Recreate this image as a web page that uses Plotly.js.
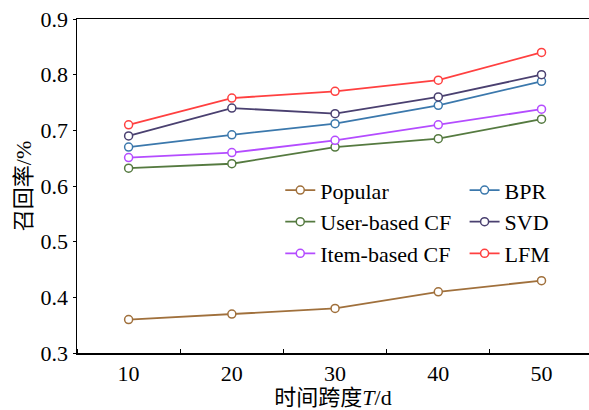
<!DOCTYPE html>
<html>
<head>
<meta charset="utf-8">
<script src="https://cdn.plot.ly/plotly-3.0.1.min.js"></script>
<style>html,body{margin:0;padding:0;background:#fff;}#chart{width:589px;height:410px;}</style>
</head>
<body>
<div id="chart"></div>
<script>
const timeSpan = [10, 20, 30, 40, 50];
const popular = [0.36, 0.37, 0.38, 0.41, 0.43];
const userCF = [0.632, 0.64, 0.67, 0.685, 0.72];
const itemCF = [0.651, 0.66, 0.682, 0.71, 0.738];
const bpr = [0.67, 0.692, 0.712, 0.745, 0.788];
const svd = [0.69, 0.74, 0.73, 0.76, 0.80];
const lfm = [0.71, 0.758, 0.77, 0.79, 0.84];
const seriesNames = ['Popular', 'User-based CF', 'Item-based CF', 'BPR', 'SVD', 'LFM'];

const FONT = 'Liberation Serif, Times New Roman, Noto Sans CJK SC, serif';
function tr(name, y, color, legend) {
  return {
    x: timeSpan, y: y, name: name, type: 'scatter', mode: 'lines+markers',
    line: {color: color, width: 1.8},
    marker: {symbol: 'circle', size: 8, color: '#ffffff', line: {color: color, width: 1.5}},
    legend: legend
  };
}
const data = [
  tr(seriesNames[0], popular, '#a0703c', 'legend'),
  tr(seriesNames[1], userCF, '#557a40', 'legend'),
  tr(seriesNames[2], itemCF, '#b44cff', 'legend'),
  tr(seriesNames[3], bpr, '#3b78ac', 'legend2'),
  tr(seriesNames[4], svd, '#4a4070', 'legend2'),
  tr(seriesNames[5], lfm, '#ff4040', 'legend2')
];
const legendBase = {
  font: {family: FONT, size: 22, color: '#000'},
  bgcolor: 'rgba(0,0,0,0)', borderwidth: 0,
  xanchor: 'left', yanchor: 'top', yref: 'paper', xref: 'paper',
  tracegroupgap: 0, itemwidth: 30
};
const layout = {
  width: 589, height: 410,
  margin: {l: 77, r: 0, t: 19, b: 57},
  paper_bgcolor: '#fff', plot_bgcolor: '#fff',
  font: {family: FONT, size: 22, color: '#000'},
  showlegend: true,
  legend: Object.assign({}, legendBase, {x: 0.397, y: 0.55}),
  legend2: Object.assign({}, legendBase, {x: 0.757, y: 0.55}),
  xaxis: {
    range: [5, 54.6],
    tickvals: timeSpan,
    ticks: '',
    showgrid: false, zeroline: false,
    showline: true, linecolor: '#000', linewidth: 1.5,
    mirror: true,
    minor: {tick0: 5, dtick: 10, ticks: 'inside', ticklen: 4, tickcolor: '#000', tickwidth: 1, showgrid: false},
    tickfont: {family: FONT, size: 22},
    title: {text: '时间跨度<i>T</i>/d', font: {family: FONT, size: 22}, standoff: 8}
  },
  yaxis: {
    range: [0.3, 0.9],
    dtick: 0.1,
    tickformat: '.1f',
    ticks: 'outside', ticklen: 3, tickcolor: '#000', tickwidth: 1,
    showgrid: false, zeroline: false,
    showline: true, linecolor: '#000', linewidth: 1.5,
    tickfont: {family: FONT, size: 22},
    title: {text: '召回率/%', font: {family: FONT, size: 22}, standoff: 3}
  }
};
Plotly.newPlot('chart', data, layout, {displayModeBar: false, staticPlot: true});
</script>
</body>
</html>
